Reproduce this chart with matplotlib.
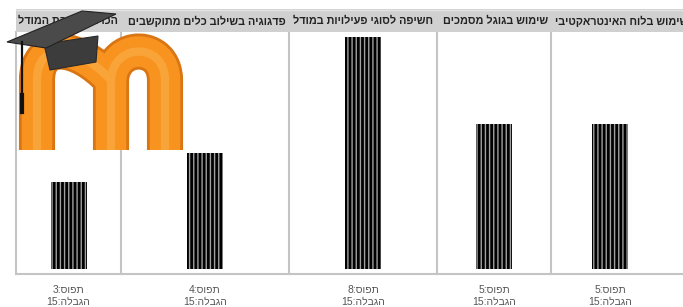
import matplotlib
matplotlib.use("Agg")
import matplotlib.pyplot as plt
from matplotlib.patches import Rectangle, Polygon, PathPatch
from matplotlib.path import Path
from matplotlib.lines import Line2D

plt.rcParams['font.family'] = ['Liberation Sans', 'DejaVu Sans']
plt.rcParams['hatch.linewidth'] = 1.0

# data (right-to-left order as in the chart: first item is the rightmost panel)
topics = ["שימוש בלוח האינטראקטיבי",
          "שימוש בגוגל מסמכים",
          "חשיפה לסוגי פעילויות במודל",
          "פדגוגיה בשילוב כלים מתוקשבים",
          "הכרות סביבת המודל"]
taken = [5, 5, 8, 4, 3]
limit = [15, 15, 15, 15, 15]

W, H = 683, 307
# panel edges in pixels, left to right (layout only)
edges = [16, 121, 289, 437, 551, 669]
head_anchor = [(118, "right"), (286, "right"), (433, "right"), (548, "right"), (555, "left")]
top_px, bottom_px = 32, 274


def rtl(s):
    # matplotlib has no bidi: give Hebrew in visual order
    return s[::-1]


def fx(x):
    return x / W


def fy(y):
    return 1 - y / H


fig = plt.figure(figsize=(W / 100, H / 100), dpi=100)
fig.patch.set_facecolor("white")

# header band
fig.patches.append(Rectangle((fx(16), fy(32)), fx(683 - 16), (32 - 9) / H,
                             transform=fig.transFigure, facecolor="#d0d0d0",
                             edgecolor="none", zorder=1))
fig.lines.append(Line2D([fx(16), fx(683)], [fy(9.5), fy(9.5)], transform=fig.transFigure,
                        color="#e4e4e4", lw=1))

lt_topics = topics[::-1]
lt_taken = taken[::-1]
lt_limit = limit[::-1]

for i in range(5):
    x0, x1 = edges[i], edges[i + 1]
    pw = x1 - x0
    ax = fig.add_axes([fx(x0), fy(bottom_px), pw / W, (bottom_px - top_px) / H])
    ax.set_xlim(-pw / 2, pw / 2)
    ax.set_ylim(-0.17, 8.17)
    ax.bar(0, lt_taken[i], width=36, color="black", edgecolor="none")
    ax.bar(0, lt_taken[i], width=36, color="none", edgecolor="#a0a0a0",
           linewidth=0, hatch="||||")
    ax.set_xticks([])
    ax.set_yticks([])
    for side in ["top", "right", "bottom"]:
        ax.spines[side].set_visible(False)
    ax.spines["left"].set_color("#c4c4c4")
    ax.spines["left"].set_linewidth(1.5)
    ax.patch.set_alpha(0)

    hx, ha = head_anchor[i]
    fig.text(fx(hx), fy(21), rtl(lt_topics[i]), ha=ha, va="center",
             fontsize=7.8, fontweight="bold", color="#222222")
    cx = (x0 + x1) / 2
    fig.text(fx(cx), fy(290), f"{lt_taken[i]}:" + rtl("תפוס"), ha="center",
             va="center", fontsize=7.5, color="#555555")
    fig.text(fx(cx), fy(302), f"{lt_limit[i]}:" + rtl("הגבלה"), ha="center",
             va="center", fontsize=7.5, color="#555555")

fig.lines.append(Line2D([fx(16), fx(683)], [fy(274), fy(274)], transform=fig.transFigure,
                        color="#c4c4c4", lw=1.5))

# moodle logo overlay (pixel coordinates)
lg = fig.add_axes([0, 0, 1, 1], zorder=10)
lg.set_xlim(0, W)
lg.set_ylim(H, 0)
lg.axis("off")
m_path = Path([(37, 150), (37, 80), (37, 42), (75, 42), (111, 80),
               (111, 150), (111, 80), (113, 42), (165, 42), (165, 80), (165, 150)],
              [Path.MOVETO, Path.LINETO, Path.CURVE4, Path.CURVE4, Path.CURVE4,
               Path.LINETO, Path.MOVETO, Path.CURVE4, Path.CURVE4, Path.CURVE4, Path.LINETO])
lg.add_patch(PathPatch(m_path, facecolor="none", edgecolor="#d97512", lw=26,
                       capstyle="butt", joinstyle="round"))
lg.add_patch(PathPatch(m_path, facecolor="none", edgecolor="#f7931e", lw=22,
                       capstyle="butt", joinstyle="round"))
lg.add_patch(PathPatch(m_path, facecolor="none", edgecolor="#fbb04a", lw=6,
                       capstyle="butt", joinstyle="round", alpha=0.6))
lg.add_patch(Polygon([(44, 44), (98, 36), (96, 62), (50, 70)], closed=True,
                     facecolor="#3c3c3c", edgecolor="#2a2a2a", lw=0.8))
lg.add_patch(Polygon([(7, 42), (82, 11), (116, 14), (46, 48)], closed=True,
                     facecolor="#4a4a4a", edgecolor="#222222", lw=0.8))
lg.plot([22, 22], [42, 112], color="#111111", lw=1.6)
lg.plot([22, 22], [95, 112], color="#111111", lw=3)

fig.savefig("out.png", dpi=100)
